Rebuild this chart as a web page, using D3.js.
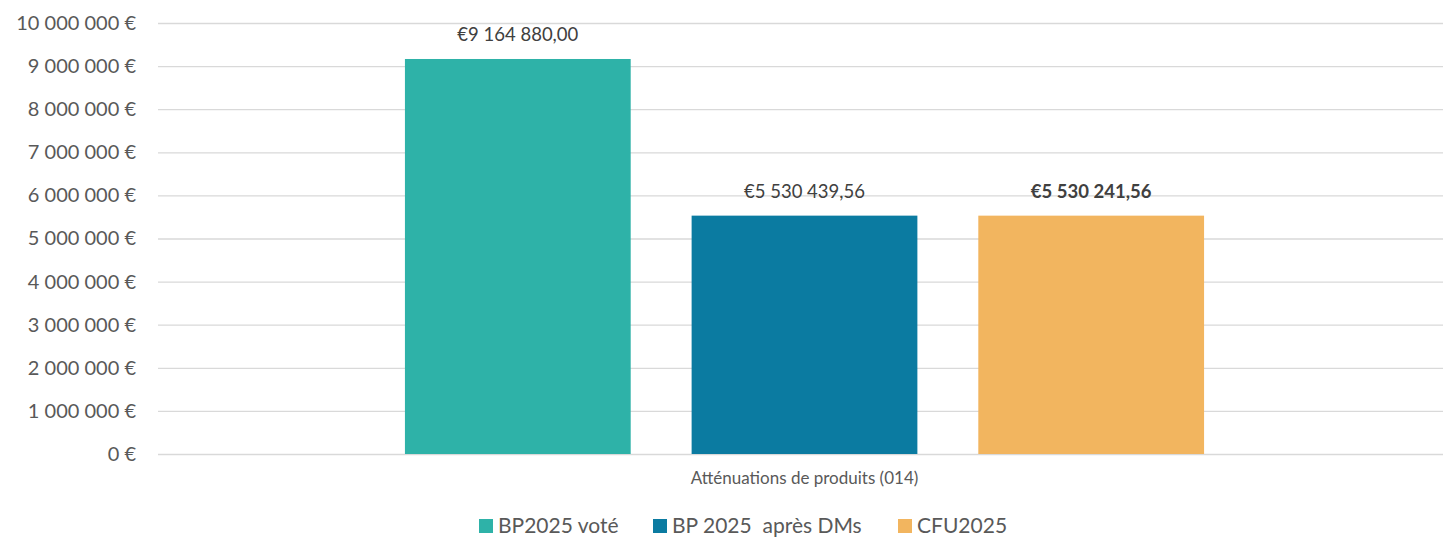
<!DOCTYPE html>
<html>
<head>
<meta charset="utf-8">
<script src="https://cdn.jsdelivr.net/npm/d3@7"></script>
<style>
  body { margin: 0; background: #fff; }
  svg text { font-family: Lato, "Noto Sans", sans-serif; fill: #595959; }
</style>
</head>
<body>
<div class="container"></div>
<script>
// data
const categories = ['Atténuations de produits (014)'];
const series = ['BP2025 voté', 'BP 2025  après DMs', 'CFU2025'];
const values = [9164880.00, 5530439.56, 5530241.56];
const valueLabels = ['€9 164 880,00', '€5 530 439,56', '€5 530 241,56'];
const colors = ['#2EB2A8', '#0B7BA1', '#F2B55F'];
const yTicks = [0, 1e6, 2e6, 3e6, 4e6, 5e6, 6e6, 7e6, 8e6, 9e6, 1e7];

const W = 1443, H = 537;
const m = { left: 158, right: 1451, top: 23, bottom: 454 };

const svg = d3.select('.container').append('svg')
  .attr('width', W).attr('height', H);

const y = d3.scaleLinear().domain([0, 1e7]).range([m.bottom, m.top]);
const x0 = d3.scaleBand().domain(categories).range([m.left, m.right])
  .paddingInner(0).paddingOuter(0.309);
const x1 = d3.scaleBand().domain(series).range([0, x0.bandwidth()])
  .paddingInner(0.2125).paddingOuter(0);

// grid + y labels
const fmt = v => d3.format(',')(v).replace(/,/g, ' ') + ' €';
const yAxis = svg.append('g').attr('transform', `translate(${m.left},0)`)
  .call(d3.axisLeft(y).tickValues(yTicks).tickSize(-(m.right - m.left)).tickPadding(22).tickFormat(fmt));
yAxis.select('.domain').remove();
yAxis.selectAll('line').attr('stroke', '#d9d9d9').attr('stroke-width', 1.3);
yAxis.selectAll('text').style('font-size', '20px').attr('fill', '#595959');

// bars
const g = svg.append('g');
categories.forEach(cat => {
  series.forEach((s, i) => {
    const bx = x0(cat) + x1(s);
    g.append('rect')
      .attr('x', bx).attr('y', y(values[i]))
      .attr('width', x1.bandwidth()).attr('height', y(0) - y(values[i]))
      .attr('fill', colors[i]);
    g.append('text')
      .attr('x', bx + x1.bandwidth() / 2).attr('y', y(values[i]) - 18)
      .attr('text-anchor', 'middle')
      .style('font-size', '18.5px')
      .style('font-weight', i === 2 ? 'bold' : 'normal')
      .style('fill', '#404040')
      .text(valueLabels[i]);
  });
  svg.append('text')
    .attr('x', x0(cat) + x0.bandwidth() / 2).attr('y', 484)
    .attr('text-anchor', 'middle')
    .style('font-size', '17px')
    .text(cat);
});

// legend
const legendX = [479, 653, 898];
series.forEach((s, i) => {
  svg.append('rect').attr('x', legendX[i]).attr('y', 519)
    .attr('width', 14).attr('height', 14).attr('fill', colors[i]);
  svg.append('text').attr('x', legendX[i] + 19).attr('y', 533)
    .style('font-size', '21px').style('white-space', 'pre').text(s);
});
</script>
</body>
</html>
